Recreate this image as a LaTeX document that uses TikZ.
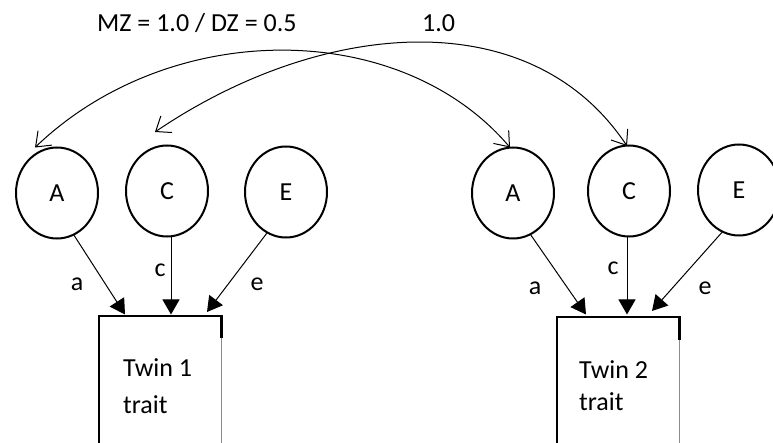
\documentclass[tikz,border=0pt]{standalone}
\usepackage{fontspec}
\setmainfont{Carlito}
\usetikzlibrary{arrows.meta,calc,shapes.geometric}
\begin{document}
\begin{tikzpicture}[x=1pt,y=-1pt,
  lat/.style={ellipse, draw, line width=2pt, minimum width=82pt, minimum height=91pt, inner sep=0pt, font=\fontsize{26}{31}\selectfont},
  lbl/.style={inner sep=0pt, font=\fontsize{26}{31}\selectfont},
  causal/.style={line width=1pt, -{Triangle[length=15pt,width=17pt]}},
  cov/.style={line width=1pt, {Straight Barb[length=13pt,width=20pt]}-{Straight Barb[length=13pt,width=20pt]}},
  boxline/.style={line width=2.5pt},
  traitbox/.style={rectangle, inner sep=0pt, minimum width=122pt, minimum height=160pt}
]
\useasboundingbox (0,0) rectangle (773,443);
\clip (0,0) rectangle (773,443);

% latent factors
\node[lat] (A1) at (57,193) {A};
\node[lat] (C1) at (167,191) {C};
\node[lat] (E1) at (286,192) {E};
\node[lat] (A2) at (513,193) {A};
\node[lat] (C2) at (629,191) {C};
\node[lat] (E2) at (739,190) {E};

% trait boxes
\node[traitbox, anchor=north west] (T1) at (99,316) {};
\node[traitbox, anchor=north west] (T2) at (557,317) {};
\draw[boxline] (T1.south west) -- (T1.north west) -- (T1.north east) -- ($(T1.north east)+(0,22)$);
\draw[line width=0.6pt, black!45] ($(T1.north east)+(0,22)$) -- (T1.south east);
\draw[boxline] (T2.south west) -- (T2.north west) -- (T2.north east) -- ($(T2.north east)+(0,23)$);
\draw[line width=0.6pt, black!45] ($(T2.north east)+(0,23)$) -- (T2.south east);

\node[lbl, anchor=base west] (t1a) at (123,376) {Twin 1};
\node[lbl, anchor=base west] (t1b) at (123,413) {trait};
\node[lbl, anchor=base west] (t2a) at (579,378) {Twin 2};
\node[lbl, anchor=base west] (t2b) at (579,410) {trait};

% paths
\draw[causal] (A1.-68) -- ($(T1.north west)+(26,-1.5)$);
\draw[causal] ($(C1.south)+(4,0)$) -- ($(T1.north west)+(72,-1.5)$);
\draw[causal] (E1.-115) -- ($(T1.north west)+(108,-4)$);
\draw[causal] (A2.-67) -- ($(T2.north west)+(29,-2.5)$);
\draw[causal] ($(C2.south)+(-2,0)$) -- ($(T2.north west)+(70,-2.5)$);
\draw[causal] (E2.-112) -- ($(T2.north west)+(95,-6)$);

\node[lbl, anchor=base] (la1) at (77,291) {a};
\node[lbl, anchor=base] (lc1) at (160,277) {c};
\node[lbl, anchor=base] (le1) at (257,291) {e};
\node[lbl, anchor=base] (la2) at (535,295) {a};
\node[lbl, anchor=base] (lc2) at (613,275) {c};
\node[lbl, anchor=base] (le2) at (705,295) {e};

% covariances
\draw[cov] ($(A1.north)+(-22,1)$) .. controls (170,18) and (400,18) .. ($(A2.north)+(-3,1)$);
\draw[cov] ($(C1.north)+(-12,-12.5)$) .. controls (320,20) and (530,0) .. ($(C2.north)+(-2,1.5)$);

\node[lbl, anchor=base west] (mz) at (97,32) {MZ = 1.0 / DZ = 0.5};
\node[lbl, anchor=base west] (one) at (422,32) {1.0};
\end{tikzpicture}
\end{document}
